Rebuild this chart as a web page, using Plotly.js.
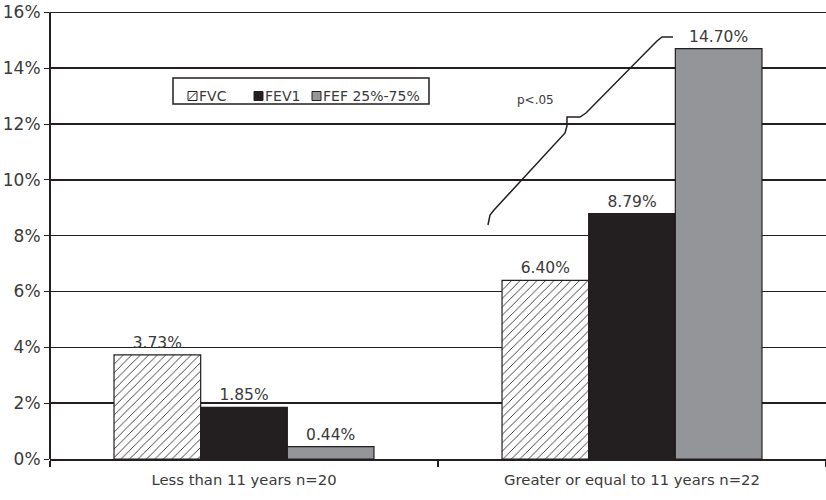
<!DOCTYPE html>
<html><head><meta charset="utf-8">
<script src="https://cdn.plot.ly/plotly-3.0.1.min.js"></script>
<style>html,body{margin:0;padding:0;background:#fff}</style>
</head><body>
<div id="chart" style="width:826px;height:500px"></div>
<script>
var categories = ["Less than 11 years n=20", "Greater or equal to 11 years n=22"];
var seriesNames = ["FVC", "FEV1", "FEF 25%-75%"];
var fvc = [3.73, 6.40];
var fev1 = [1.85, 8.79];
var fef = [0.44, 14.70];
var yTickVals = [0, 2, 4, 6, 8, 10, 12, 14, 16];
var yTickText = ["0%", "2%", "4%", "6%", "8%", "10%", "12%", "14%", "16%"];
var seriesColors = ["#ffffff", "#231f20", "#939598"];

var W = 826, H = 500, M = {l: 50, r: 0, t: 4, b: 41};
function px(x) { return (x - M.l) / (W - M.l - M.r); }
function py(y) { return 1 - (y - M.t) / (H - M.t - M.b); }

var FONT = "DejaVu Sans, Verdana, sans-serif";
var TXT = "#3a3a3a";
var DARK = "#231f20";
function bar(i, vals, pattern) {
  var t = {
    type: "bar", name: seriesNames[i], x: categories, y: vals, showlegend: false,
    marker: {color: seriesColors[i], line: {color: DARK, width: 1.2}},
    text: vals.map(function (v) { return v.toFixed(2) + "%"; }),
    textposition: "outside", cliponaxis: false,
    textfont: {family: FONT, size: 15.5, color: TXT}
  };
  if (pattern) t.marker.pattern = pattern;
  return t;
}
var data = [
  bar(0, fvc, {shape: "/", fgcolor: DARK, bgcolor: "#ffffff", size: 6, solidity: 0.14}),
  bar(1, fev1),
  bar(2, fef)
];

var pts = [[488,225],[490,215],[494,210],[565,133],[567,126],[567,117],[580,117],[586,113],[657,41],[662,37],[673,37]];
var path = "M " + pts.map(function (p) { return px(p[0]).toFixed(4) + "," + py(p[1]).toFixed(4); }).join(" L ");

function rectP(x0, y0, x1, y1, fill, lw) {
  return {type: "rect", xref: "paper", yref: "paper", x0: px(x0), x1: px(x1), y0: py(y1), y1: py(y0),
          fillcolor: fill, line: {color: DARK, width: lw}};
}
var legendSymX = [188, 254, 312];
var shapes = [
  {type: "line", xref: "paper", yref: "y", x0: 0, x1: 0, y0: 0, y1: 16, line: {color: DARK, width: 2}},
  {type: "path", xref: "paper", yref: "paper", path: path, line: {color: DARK, width: 1.5}},
  rectP(173, 78, 429, 104, "#ffffff", 1.5)
];
var annotations = [{xref: "paper", yref: "paper", x: px(535), y: py(100), xanchor: "center", yanchor: "middle",
                    text: "p<.05", showarrow: false, font: {family: FONT, size: 12, color: TXT}}];
legendSymX.forEach(function (sx, i) {
  shapes.push(rectP(sx, 91.5, sx + 9, 100.5, seriesColors[i], 1));
  if (i === 0) {
    shapes.push({type: "line", xref: "paper", yref: "paper", x0: px(sx + 1), y0: py(99.5), x1: px(sx + 8), y1: py(92.5),
                 line: {color: DARK, width: 1}});
  }
  annotations.push({xref: "paper", yref: "paper", x: px(sx + 9.5), y: py(96), xanchor: "left", yanchor: "middle",
                    text: seriesNames[i], showarrow: false, borderpad: 0,
                    font: {family: FONT, size: 14, color: TXT}});
});

var layout = {
  width: W, height: H, margin: M,
  paper_bgcolor: "#fff", plot_bgcolor: "#fff",
  font: {family: FONT, color: TXT},
  barmode: "group", bargap: 0.33, bargroupgap: 0,
  showlegend: false,
  xaxis: {type: "category", range: [-0.5, 1.5], showgrid: false, showline: true, linecolor: DARK, linewidth: 2,
          ticks: "outside", tickson: "boundaries", ticklen: 6, tickcolor: DARK, tickwidth: 1.5,
          ticklabelstandoff: 6,
          tickfont: {family: FONT, size: 14.8, color: TXT}, zeroline: false},
  yaxis: {range: [0, 16.3], tickvals: yTickVals, ticktext: yTickText, showgrid: true, gridcolor: DARK, gridwidth: 1.5,
          showline: false, ticks: "outside", ticklen: 5, tickcolor: DARK,
          tickfont: {family: FONT, size: 17, color: TXT}, zeroline: false},
  shapes: shapes,
  annotations: annotations
};
Plotly.newPlot("chart", data, layout, {displayModeBar: false, staticPlot: true});
</script>
</body></html>
